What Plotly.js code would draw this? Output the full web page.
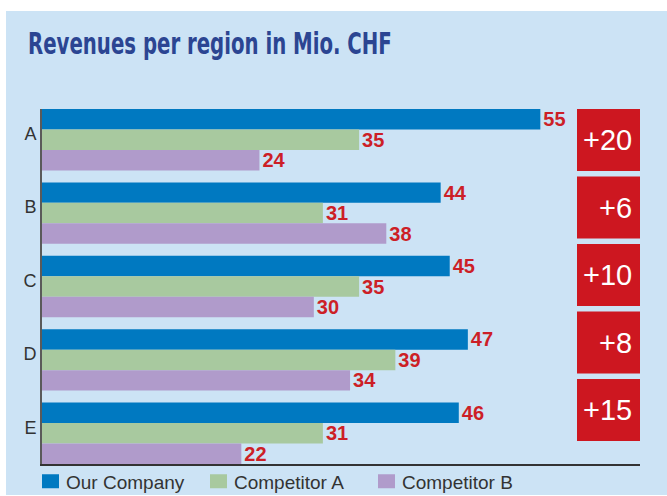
<!DOCTYPE html>
<html>
<head>
<meta charset="utf-8">
<script src="https://cdn.plot.ly/plotly-3.0.1.min.js"></script>
<style>
  html, body { margin: 0; padding: 0; background: #ffffff; width: 667px; height: 496px; overflow: hidden; }
  #chart { position: absolute; left: 6px; top: 11px; width: 661px; height: 484px; }
</style>
</head>
<body>
<div id="chart"></div>
<script>
const regions = ["A", "B", "C", "D", "E"];
const ourCompany = [55, 44, 45, 47, 46];
const competitorA = [35, 31, 35, 39, 31];
const competitorB = [24, 38, 30, 34, 22];
const seriesNames = ["Our Company", "Competitor A", "Competitor B"];
const seriesColors = ["#0079c1", "#a8c99f", "#b09bcb"];

const labelRed = "#cc1f27";
const valueFont = { family: "Liberation Sans, Arial, sans-serif", size: 20, color: labelRed, weight: "bold" };

const allSeries = [ourCompany, competitorA, competitorB];
const traces = allSeries.map((vals, i) => ({
  type: "bar",
  orientation: "h",
  name: seriesNames[i],
  y: regions,
  x: vals,
  marker: { color: seriesColors[i], line: { width: 0 } },
  texttemplate: "%{x}",
  textposition: "outside",
  textfont: valueFont,
  constraintext: "none",
  cliponaxis: false,
  hoverinfo: "skip"
}));

// Lead over the strongest competitor, per region
const leads = ourCompany.map((v, i) => v - Math.max(competitorA[i], competitorB[i]));

// Red lead boxes (paper coords, stacked on the right side)
const plotHpx = 355;
const boxPitch = 67.5, boxH = 62;
const shapes = [];
const annotations = [];
leads.forEach((d, i) => {
  const top = i * boxPitch;
  const y1 = 1 - top / plotHpx;
  const y0 = 1 - (top + boxH) / plotHpx;
  shapes.push({
    type: "rect", xref: "paper", yref: "paper",
    x0: (577 - 42) / 598, x1: 1, y0: y0, y1: y1,
    fillcolor: "#cd1720", line: { width: 0 }, layer: "above"
  });
  annotations.push({
    xref: "paper", yref: "paper",
    x: (634 - 42) / 598, y: (y0 + y1) / 2,
    xanchor: "right", yanchor: "middle",
    text: "+" + d, showarrow: false,
    font: { family: "Liberation Sans, Arial, sans-serif", size: 29, color: "#ffffff" }
  });
});

const layout = {
  width: 661, height: 484,
  paper_bgcolor: "#cce3f5",
  plot_bgcolor: "rgba(0,0,0,0)",
  margin: { l: 36, r: 27, t: 98, b: 31, pad: 0, autoexpand: false },
  title: {
    text: "Revenues per region in Mio. CHF",
    font: { family: "Liberation Sans Narrow, DejaVu Sans Condensed, Arial Narrow, sans-serif", size: 30, color: "#2b4592", weight: "bold" },
    x: 22 / 661, xanchor: "left", xref: "container",
    y: 1 - 33 / 484, yanchor: "middle", yref: "container"
  },
  barmode: "group",
  bargap: 0.163,
  bargroupgap: 0,
  xaxis: {
    range: [0, 66],
    showgrid: false, zeroline: false,
    showticklabels: false, ticks: "",
    showline: true, linecolor: "#333333", linewidth: 1.5
  },
  yaxis: {
    type: "category",
    range: [4.4185, -0.4185],
    showgrid: false, zeroline: false,
    ticks: "",
    showline: true, linecolor: "#5a5a5a", linewidth: 2,
    tickfont: { family: "Liberation Sans, Arial, sans-serif", size: 18, color: "#333333" },
    ticklabelstandoff: 0,
    ticklabelshift: 6
  },
  showlegend: true,
  legend: {
    orientation: "h",
    x: (26 - 42) / 598, xanchor: "left",
    y: -0.001, yanchor: "top",
    bgcolor: "rgba(0,0,0,0)",
    font: { family: "Liberation Sans, Arial, sans-serif", size: 19, color: "#333333" },
    traceorder: "normal",
    entrywidth: 123, entrywidthmode: "pixels",
    itemclick: false, itemdoubleclick: false
  },
  shapes: shapes,
  annotations: annotations
};

Plotly.newPlot("chart", traces, layout, { displayModeBar: false, staticPlot: true }).then(gd => {
  // condense the title horizontally to the reference's narrow headline width
  const t = gd.querySelector(".gtitle");
  if (t) {
    const bb = t.getBBox();
    const target = 364;
    const s = Math.min(1, target / bb.width);
    const x0 = bb.x;
    t.setAttribute("transform", `translate(${x0 * (1 - s)},0) scale(${s},1)`);
  }
  // larger legend swatches, as in the reference
  gd.querySelectorAll(".legendpoints path.legendundefined, .legendpoints path").forEach(p => {
    p.setAttribute("d", "M13,7H-4V-7H13Z");
  });
  const leg = gd.querySelector(".legend");
  if (leg) {
    const tr = leg.getAttribute("transform") || "";
    leg.setAttribute("transform", tr + " translate(0,-2)");
  }
});
</script>
</body>
</html>
